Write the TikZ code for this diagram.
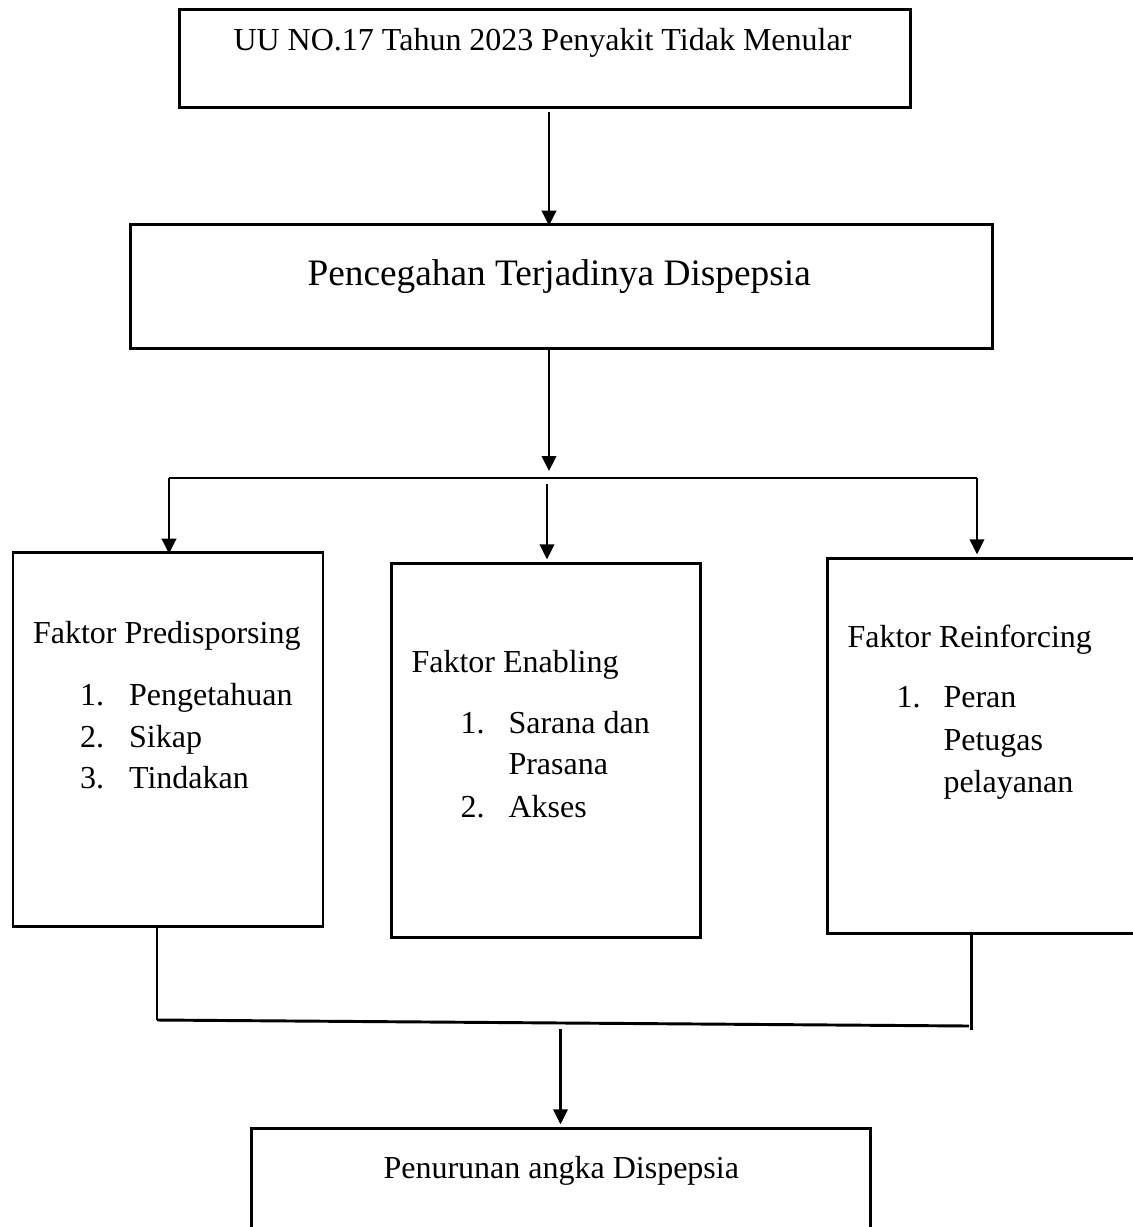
\documentclass[tikz,border=0pt]{standalone}
\usepackage{fontspec}
\setmainfont{Liberation Serif}
\usetikzlibrary{arrows.meta}
\begin{document}
\begin{tikzpicture}[x=0.375pt,y=-0.375pt,
  box/.style={draw,line width=1.05pt,rectangle,inner sep=0pt,anchor=north west},
  conn/.style={line width=0.85pt},
  arr/.style={line width=0.85pt,-{Triangle[length=5.6pt,width=5.4pt]}},
  bus/.style={line width=1.1pt},
  txt/.style={anchor=base west,inner sep=0pt,font=\fontsize{12pt}{14pt}\selectfont},
  bigtxt/.style={anchor=base west,inner sep=0pt,font=\fontsize{14pt}{16pt}\selectfont}]
\useasboundingbox (0,0) rectangle (1133,1227);
\clip (0,0) rectangle (1133,1227);
% boxes
\node[box,minimum width=274.1pt,minimum height=36.75pt] (b1) at (178,8) {};
\node[box,minimum width=323.25pt,minimum height=46.5pt] (b2) at (129,223) {};
\node[box,minimum width=116.25pt,minimum height=140.25pt] (bl) at (11.5,551) {};
\node[box,minimum width=115.9pt,minimum height=140.25pt] (bm) at (390,562) {};
\node[box,minimum width=119.6pt,minimum height=140.6pt] (br) at (826,557) {};
\node[box,minimum width=232.1pt,minimum height=42.4pt] (bb) at (250,1127) {};
% texts
\node[txt] (t1) at (233,50) {UU NO.17 Tahun 2023 Penyakit Tidak Menular};
\node[bigtxt] (t2) at (307,285) {Pencegahan Terjadinya Dispepsia};
\node[txt] (tl0) at (32.5,643) {Faktor Predisporsing};
\node[txt] (tl1n) at (79.5,705) {1.};
\node[txt] (tl1) at (128.6,705) {Pengetahuan};
\node[txt] (tl2n) at (79.5,747) {2.};
\node[txt] (tl2) at (128.6,747) {Sikap};
\node[txt] (tl3n) at (79.5,788) {3.};
\node[txt] (tl3) at (128.6,788) {Tindakan};
\node[txt] (tm0) at (411,672) {Faktor Enabling};
\node[txt] (tm1n) at (460,733) {1.};
\node[txt] (tm1) at (508,733) {Sarana dan};
\node[txt] (tm1b) at (508,774) {Prasana};
\node[txt] (tm2n) at (460,817) {2.};
\node[txt] (tm2) at (508,817) {Akses};
\node[txt] (tr0) at (847,647) {Faktor Reinforcing};
\node[txt] (tr1n) at (896,707) {1.};
\node[txt] (tr1) at (943,707) {Peran};
\node[txt] (tr1b) at (943,750) {Petugas};
\node[txt] (tr1c) at (943,792) {pelayanan};
\node[txt] (tb) at (383,1178) {Penurunan angka Dispepsia};
% connectors
\coordinate (a1) at (549,112);
\draw[arr] (a1) -- ([yshift=-1pt]a1 |- b2.north);
\coordinate (hub) at (549,471);
\draw[arr] (a1 |- b2.south) -- (hub);
\coordinate (dl) at (169,478);
\coordinate (dr) at (977,478);
\coordinate (dm) at (547,484);
\draw[bus] (dl) -- (dr);
\draw[arr] (dl) -- ([yshift=-1pt]dl |- bl.north);
\draw[arr] (dm) -- ([yshift=1pt]dm |- bm.north);
\draw[arr] (dr) -- ([yshift=1pt]dr |- br.north);
\coordinate (cl) at (157,1020);
\coordinate (cr) at (969,1026);
\coordinate (cv) at (971.5,1030);
\draw[conn] (cl |- bl.south) -- (cl);
\draw[conn] (cv |- br.south) -- (cv);
\draw[bus] (cl) -- (cr);
\coordinate (ba) at (560.5,1029);
\draw[arr] (ba) -- ([yshift=1pt]ba |- bb.north);
\end{tikzpicture}
\end{document}
